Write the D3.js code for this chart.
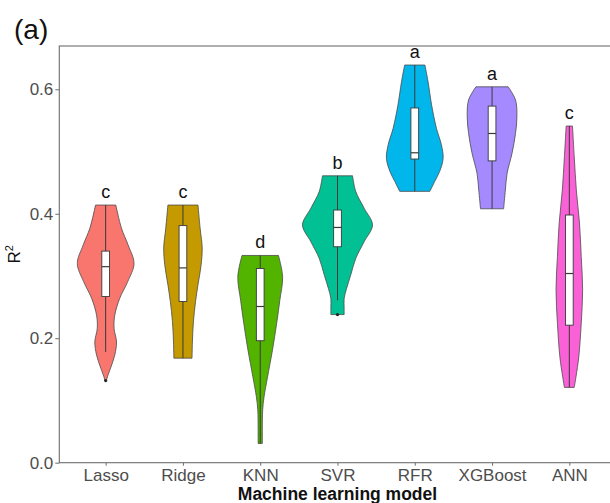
<!DOCTYPE html>
<html>
<head>
<meta charset="utf-8">
<script src="https://cdn.jsdelivr.net/npm/d3@7"></script>
<style>
  html, body { margin: 0; padding: 0; background: #fff; }
  svg { display: block; font-family: "Liberation Sans", Arial, sans-serif; }
</style>
</head>
<body>
<svg id="chart" width="610" height="503"></svg>
<script>
// Models on the x axis and their fill colours
const models = ["Lasso", "Ridge", "KNN", "SVR", "RFR", "XGBoost", "ANN"];
const colors = ["#F8766D", "#C49A00", "#53B400", "#00C094", "#00B6EB", "#A58AFF", "#FB61D7"];
const letters = ["c", "c", "d", "b", "a", "a", "c"];

// Violin outlines: [R2 value, relative density] from top to bottom
const lassoDensity = [[0.414,0.29],[0.377,0.45],[0.350,0.64],[0.320,0.81],[0.291,0.63],[0.264,0.40],[0.237,0.26],[0.216,0.24],[0.194,0.31],[0.173,0.26],[0.152,0.14],[0.138,0.05],[0.132,0.02]];
const ridgeDensity = [[0.414,0.43],[0.377,0.49],[0.345,0.55],[0.318,0.52],[0.286,0.43],[0.259,0.36],[0.227,0.30],[0.194,0.27],[0.168,0.26]];
const knnDensity = [[0.333,0.52],[0.299,0.64],[0.261,0.56],[0.224,0.47],[0.181,0.35],[0.138,0.21],[0.106,0.11],[0.085,0.07],[0.053,0.06],[0.031,0.06]];
const svrDensity = [[0.461,0.43],[0.436,0.52],[0.409,0.76],[0.382,1.00],[0.355,0.76],[0.328,0.52],[0.302,0.38],[0.280,0.26],[0.264,0.19],[0.248,0.19],[0.238,0.19]];
const rfrDensity = [[0.639,0.29],[0.612,0.38],[0.575,0.48],[0.537,0.62],[0.511,0.76],[0.489,0.81],[0.468,0.71],[0.452,0.57],[0.436,0.43]];
const xgbDensity = [[0.604,0.46],[0.583,0.67],[0.556,0.71],[0.529,0.67],[0.497,0.57],[0.465,0.43],[0.438,0.38],[0.408,0.33]];
const annDensity = [[0.541,0.09],[0.492,0.14],[0.438,0.20],[0.385,0.29],[0.331,0.34],[0.278,0.38],[0.224,0.34],[0.170,0.27],[0.138,0.19],[0.121,0.14]];
const densities = [lassoDensity, ridgeDensity, knnDensity, svrDensity, rfrDensity, xgbDensity, annDensity];

// Box plot statistics per model
const whiskerLow  = [0.178, 0.168, 0.031, 0.261, 0.436, 0.408, 0.121];
const q1          = [0.267, 0.259, 0.196, 0.347, 0.488, 0.485, 0.221];
const medians     = [0.315, 0.313, 0.251, 0.378, 0.498, 0.529, 0.304];
const q3          = [0.340, 0.381, 0.312, 0.406, 0.570, 0.573, 0.398];
const whiskerHigh = [0.414, 0.414, 0.333, 0.461, 0.639, 0.604, 0.541];
const outliers    = [[0.132], [], [], [0.238], [], [], []];

const yTicks = [0.0, 0.2, 0.4, 0.6];

const svg = d3.select("#chart");
const panel = { left: 59.3, right: 615.7, top: 46, bottom: 462.7 };

// Discrete x scale with ggplot-style 0.6 expansion on each side
const step = (panel.right - panel.left) / (models.length - 1 + 1.2);
const x = d3.scalePoint().domain(models)
  .range([panel.left + 0.6 * step, panel.right - 0.6 * step]);
const y = d3.scaleLinear().domain([0, 0.6]).range([panel.bottom, 89.3]);
const w = d3.scaleLinear().domain([0, 1]).range([0, 0.453 * step]);

// Panel frame (the right edge falls outside the canvas)
svg.append("rect")
  .attr("x", panel.left).attr("y", panel.top)
  .attr("width", panel.right - panel.left).attr("height", panel.bottom - panel.top)
  .attr("fill", "#fff").attr("stroke", "#6e6e6e").attr("stroke-width", 1.1);

// Y axis
const yAxis = svg.append("g")
  .attr("transform", `translate(${panel.left},0)`)
  .call(d3.axisLeft(y).tickValues(yTicks).tickFormat(d3.format(".1f")).tickSize(4).tickPadding(2));
yAxis.select(".domain").remove();
yAxis.selectAll("line").attr("stroke", "#6e6e6e");
yAxis.selectAll("text").attr("fill", "#4d4d4d").style("font-size", "17px")
  .style("font-family", "'Liberation Sans', Arial, sans-serif");

// X axis
const xAxis = svg.append("g")
  .attr("transform", `translate(0,${panel.bottom})`)
  .call(d3.axisBottom(x).tickSize(3).tickPadding(3));
xAxis.select(".domain").remove();
xAxis.selectAll("line").attr("stroke", "#6e6e6e");
xAxis.selectAll("text").attr("fill", "#4d4d4d").style("font-size", "17px")
  .style("font-family", "'Liberation Sans', Arial, sans-serif");

// Violins
const violin = d3.area()
  .curve(d3.curveCatmullRom)
  .y(d => y(d[0]));

models.forEach((m, i) => {
  const cx = x(m);
  const g = svg.append("g").attr("class", "model");
  g.append("path")
    .datum(densities[i])
    .attr("d", violin.x0(d => cx - w(d[1])).x1(d => cx + w(d[1])))
    .attr("fill", colors[i])
    .attr("stroke", "#4a4a4a")
    .attr("stroke-width", 0.8);

  // whisker
  g.append("line")
    .attr("x1", cx).attr("x2", cx)
    .attr("y1", y(whiskerHigh[i])).attr("y2", y(whiskerLow[i]))
    .attr("stroke", "#3a3a3a").attr("stroke-width", 1);

  // box
  const bw = 0.1 * step;
  g.append("rect")
    .attr("x", cx - bw / 2).attr("width", bw)
    .attr("y", y(q3[i])).attr("height", y(q1[i]) - y(q3[i]))
    .attr("fill", "#fff").attr("stroke", "#3a3a3a").attr("stroke-width", 0.9);
  g.append("line")
    .attr("x1", cx - bw / 2).attr("x2", cx + bw / 2)
    .attr("y1", y(medians[i])).attr("y2", y(medians[i]))
    .attr("stroke", "#3a3a3a").attr("stroke-width", 1.2);

  // outlier points
  g.selectAll("circle").data(outliers[i]).enter().append("circle")
    .attr("cx", cx).attr("cy", d => y(d)).attr("r", 1.6).attr("fill", "#222");

  // significance letter
  g.append("text")
    .attr("x", cx).attr("y", y(whiskerHigh[i]) - 7)
    .attr("text-anchor", "middle")
    .style("font-size", "18px").attr("fill", "#111")
    .text(letters[i]);
});

// Axis titles
svg.append("text")
  .attr("x", (panel.left + panel.right) / 2).attr("y", 500)
  .attr("text-anchor", "middle")
  .style("font-size", "17.5px").style("font-weight", "bold").attr("fill", "#111")
  .text("Machine learning model");

const yTitle = svg.append("text")
  .attr("transform", `translate(20,${(panel.top + panel.bottom) / 2}) rotate(-90)`)
  .attr("text-anchor", "middle")
  .style("font-size", "17px").attr("fill", "#111");
yTitle.append("tspan").text("R");
yTitle.append("tspan").attr("dy", -7).style("font-size", "11px").text("2");

// Panel tag
svg.append("text")
  .attr("x", 14).attr("y", 39)
  .style("font-size", "28px").attr("fill", "#111")
  .text("(a)");
</script>
</body>
</html>
